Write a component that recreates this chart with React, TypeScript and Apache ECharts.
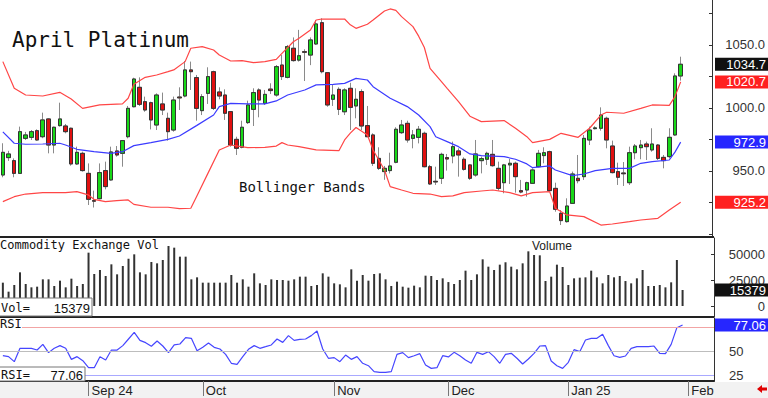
import React, { useEffect, useRef } from "react";
import * as echarts from "echarts";

// ---- data (one entry per trading day) ----
const opens = [
  946.8, 960.6, 958.2, 948.1, 975.9, 976.7, 982.0, 977.2, 991.3, 970.6,
  986.0, 985.7, 983.9, 955.6, 964.0, 948.1, 926.5, 928.0, 950.3, 942.9,
  965.9, 964.0, 977.2, 1001.0, 1016.4, 1005.0, 1004.2, 986.5, 1003.2, 991.8,
  982.5, 1008.7, 1009.5, 1030.2, 1024.1, 997.9, 1011.6, 1028.8, 1012.7, 1010.3,
  997.1, 975.1, 968.8, 988.4, 998.9, 1014.3, 1003.7, 1015.0, 1010.3, 1034.1,
  1024.3, 1047.4, 1038.0, 1044.7, 1042.0, 1050.8, 1067.7, 1028.0, 1006.9, 1014.8,
  997.0, 1015.6, 1001.6, 1013.0, 986.0, 978.6, 960.0, 949.5, 950.3, 956.9,
  980.4, 987.8, 975.9, 976.7, 979.9, 953.4, 941.8, 944.2, 960.6, 961.9,
  965.9, 959.3, 954.8, 946.8, 958.2, 959.3, 963.2, 952.1, 940.7, 954.8,
  956.1, 934.4, 934.9, 940.2, 953.4, 962.2, 965.3, 936.2, 916.4, 909.8,
  924.3, 944.2, 945.5, 974.6, 983.6, 983.9, 991.8, 969.8, 949.5, 948.4,
  940.7, 964.5, 968.5, 971.4, 966.7, 970.6, 960.8, 961.4, 978.6, 1025.4,
];
const highs = [
  972.0, 966.0, 960.0, 985.2, 981.0, 982.5, 983.0, 996.3, 991.8, 985.2,
  1004.2, 987.3, 984.4, 969.3, 965.3, 956.0, 934.4, 956.0, 957.4, 969.3,
  969.8, 974.6, 1001.6, 1024.0, 1024.3, 1009.0, 1005.0, 1011.6, 1012.2, 996.3,
  1009.0, 1016.4, 1037.3, 1036.8, 1026.2, 1011.0, 1032.3, 1029.6, 1016.4, 1014.8,
  997.6, 977.2, 989.9, 1005.8, 1015.6, 1015.6, 1014.3, 1019.6, 1034.1, 1042.0,
  1050.0, 1056.0, 1062.0, 1046.6, 1056.0, 1069.8, 1071.2, 1028.0, 1018.3, 1016.4,
  1015.6, 1020.0, 1015.6, 1014.8, 1001.6, 979.9, 968.8, 954.0, 964.5, 984.7,
  990.5, 989.9, 982.5, 985.7, 981.2, 954.8, 953.4, 964.5, 963.5, 973.3,
  968.0, 960.8, 955.3, 974.6, 961.4, 965.3, 974.6, 957.4, 955.6, 959.5,
  957.4, 942.9, 941.5, 952.1, 966.7, 968.8, 966.1, 940.7, 919.0, 928.3,
  949.5, 962.7, 978.6, 985.2, 985.5, 1000.5, 993.1, 974.1, 956.6, 957.1,
  969.3, 971.4, 974.6, 973.3, 983.9, 971.4, 962.7, 983.9, 1027.5, 1040.7,
];
const lows = [
  945.0, 958.0, 945.0, 947.6, 974.6, 974.6, 974.0, 976.0, 964.0, 964.0,
  985.2, 979.9, 954.2, 954.8, 949.5, 923.0, 921.0, 927.5, 935.4, 942.3,
  961.4, 953.4, 975.9, 1000.5, 1001.6, 997.0, 983.0, 982.5, 994.4, 974.1,
  981.2, 998.4, 1008.5, 1014.3, 989.9, 994.4, 1003.2, 998.4, 1006.9, 990.5,
  969.3, 962.7, 968.0, 987.3, 985.7, 992.6, 1002.4, 1011.1, 1009.0, 1022.2,
  1023.5, 1036.8, 1036.8, 1021.4, 1034.0, 1050.0, 1027.5, 1001.0, 1001.6, 994.4,
  994.4, 982.5, 991.8, 982.5, 977.0, 954.0, 950.8, 943.0, 948.0, 956.1,
  979.4, 972.5, 968.0, 971.9, 952.9, 938.9, 938.9, 939.7, 950.3, 956.1,
  945.5, 950.3, 942.9, 945.5, 948.1, 954.8, 953.4, 934.4, 932.3, 939.7,
  932.8, 932.3, 929.6, 939.7, 952.9, 956.1, 933.6, 917.7, 907.1, 909.0,
  923.8, 940.2, 942.9, 970.6, 983.0, 982.0, 968.0, 948.1, 938.9, 938.1,
  938.9, 959.3, 959.3, 958.7, 965.3, 958.7, 952.1, 960.0, 977.9, 1021.7,
];
const closes = [
  964.8, 963.5, 948.1, 981.2, 978.6, 981.2, 974.6, 990.5, 970.6, 984.7,
  991.3, 981.2, 955.6, 964.8, 950.3, 927.5, 926.0, 948.7, 937.6, 965.1,
  962.7, 974.1, 999.7, 1023.0, 1002.9, 998.4, 990.5, 1010.3, 998.4, 981.2,
  1006.3, 1008.0, 1030.2, 1028.8, 999.7, 1009.0, 1024.9, 999.7, 1009.5, 995.8,
  970.6, 968.0, 984.7, 1002.4, 1012.2, 1006.3, 1010.8, 1013.8, 1032.8, 1024.9,
  1048.7, 1037.6, 1041.5, 1044.2, 1054.0, 1066.7, 1028.8, 1002.4, 1010.3, 998.9,
  1014.3, 1000.5, 1006.9, 985.7, 977.2, 956.1, 952.1, 952.1, 954.0, 983.1,
  986.5, 974.6, 978.6, 983.1, 953.4, 939.7, 941.3, 963.2, 959.5, 969.3,
  962.7, 951.3, 944.2, 963.5, 959.8, 964.0, 954.2, 936.2, 954.8, 956.1,
  945.5, 933.3, 940.7, 950.8, 964.0, 964.5, 934.4, 919.6, 910.6, 922.2,
  947.6, 942.3, 975.9, 982.5, 984.2, 994.4, 974.6, 948.7, 945.0, 947.8,
  964.5, 969.8, 970.6, 969.3, 971.4, 960.0, 958.2, 976.7, 1025.4, 1034.7,
];
const volumes = [
  22436, 13782, 20192, 32372, 21153, 17949, 18589, 25641, 25641, 19230,
  24358, 17949, 26282, 19230, 21153, 51282, 30768, 34614, 28845, 40063,
  30448, 38460, 45511, 49679, 32372, 30448, 42306, 41024, 44229, 57690,
  56087, 47434, 47434, 25641, 27563, 22436, 22436, 22436, 22436, 22436,
  29807, 22436, 25641, 18589, 31410, 21794, 20192, 25641, 24999, 24999,
  24358, 25641, 28204, 28204, 19230, 20192, 31410, 28204, 21794, 20833,
  17949, 35256, 24358, 29807, 24358, 30768, 31410, 25641, 19230, 23397,
  18589, 17628, 19551, 17949, 29166, 28845, 24999, 26602, 23000, 21153,
  24999, 33974, 24999, 30448, 44869, 37819, 34614, 39742, 42047, 37819,
  35256, 41024, 52564, 49038, 48717, 24038, 28204, 39742, 37498, 20192,
  26602, 27243, 27563, 33974, 27563, 21794, 29807, 27563, 28845, 24000,
  21794, 26602, 34614, 19230, 19230, 20192, 17949, 22756, 44229, 15379,
];
const rsi = [
  45.1, 44.1, 38.9, 52.8, 52.8, 52.8, 51.0, 56.9, 48.3, 52.8,
  55.6, 52.8, 41.3, 44.1, 39.9, 32.6, 32.6, 44.1, 40.6, 51.0,
  51.0, 55.6, 62.5, 69.4, 61.1, 58.7, 54.9, 60.4, 55.2, 48.3,
  56.3, 57.3, 63.9, 63.2, 50.3, 53.8, 58.3, 53.8, 52.1, 46.5,
  37.2, 36.1, 44.1, 51.7, 55.6, 52.8, 54.5, 56.3, 62.5, 59.0,
  66.0, 61.1, 62.2, 62.5, 66.0, 70.8, 52.1, 42.4, 43.1, 38.9,
  45.8, 41.3, 44.1, 37.2, 34.7, 28.5, 27.8, 27.8, 28.5, 46.5,
  48.3, 43.1, 45.1, 47.2, 35.4, 31.9, 32.6, 45.1, 43.8, 48.6,
  45.1, 40.6, 37.2, 48.6, 46.5, 49.3, 44.1, 37.2, 46.5, 47.6,
  42.4, 36.5, 41.7, 47.6, 55.2, 55.6, 39.6, 34.7, 31.9, 38.2,
  51.4, 49.3, 61.5, 63.2, 63.2, 67.4, 55.6, 45.1, 43.4, 44.8,
  52.8, 54.5, 54.5, 54.5, 55.2, 47.6, 47.2, 56.9, 74.3, 77.06,
];
// Bollinger bands read at selected days: [dayIndex, price]
const upperBand = [
  [0, 1036.8], [2, 1015.6], [4, 1010.3], [7, 1009.5], [10, 1012.4], [12, 1007.1], [14, 999.7],
  [17, 1002.4], [21, 1003.2], [22, 1007.7], [23, 1018.8], [25, 1024.3], [27, 1026.2], [29, 1028.8],
  [30, 1030.2], [32, 1036.8], [33, 1047.4], [35, 1048.7], [37, 1046.0], [38, 1042.1], [40, 1037.3],
  [42, 1037.6], [44, 1036.0], [46, 1036.8], [48, 1038.6], [49, 1043.4], [51, 1052.6], [52, 1055.3],
  [54, 1061.9], [55, 1069.8], [56, 1070.6], [60, 1070.6], [61, 1066.0], [62, 1063.2], [64, 1066.5],
  [65, 1069.8], [67, 1077.0], [68, 1078.6], [69, 1077.5], [70, 1072.5], [72, 1064.6], [73, 1057.0],
  [74, 1048.0], [75, 1031.5], [77, 1021.0], [78, 1015.6], [80, 1005.0], [82, 993.5], [84, 989.2],
  [88, 990.0], [90, 983.9], [92, 977.2], [93, 972.5], [96, 975.1], [98, 979.9], [101, 976.7],
  [103, 983.9], [105, 994.4], [106, 996.6], [109, 995.8], [112, 999.7], [114, 1002.4], [117, 1002.1],
  [118, 1009.0], [119, 1020.7],
];
const middleBand = [
  [0, 981.0], [2, 972.0], [4, 971.2], [7, 971.4], [10, 972.0], [11, 970.6], [13, 967.2], [16, 965.3],
  [19, 964.0], [21, 965.3], [23, 970.1], [26, 972.5], [29, 975.1], [31, 977.8], [34, 986.0],
  [37, 994.4], [38, 1001.1], [40, 1003.7], [43, 1003.2], [46, 1003.2], [48, 1005.6], [50, 1010.3],
  [53, 1014.3], [55, 1018.3], [58, 1018.8], [60, 1019.5], [62, 1023.5], [64, 1022.2], [65, 1016.9],
  [68, 1007.7], [71, 1001.1], [73, 994.4], [75, 985.2], [76, 977.2], [78, 973.3], [80, 969.3],
  [82, 963.5], [84, 962.2], [88, 961.4], [90, 959.3], [92, 955.6], [93, 952.6], [96, 954.0],
  [97, 950.8], [100, 946.3], [102, 947.6], [104, 950.3], [107, 952.1], [110, 952.1], [112, 956.1],
  [114, 957.4], [117, 958.7], [118, 965.0], [119, 972.9],
];
const lowerBand = [
  [0, 925.7], [2, 929.6], [4, 931.7], [7, 932.8], [11, 932.8], [13, 933.6], [15, 931.0], [16, 927.5],
  [18, 925.7], [20, 926.5], [22, 927.0], [23, 923.5], [26, 921.2], [29, 921.2], [31, 920.1],
  [33, 920.4], [34, 929.6], [36, 948.1], [38, 966.7], [40, 970.6], [43, 968.5], [46, 968.8],
  [48, 969.8], [49, 972.5], [50, 970.6], [52, 969.3], [55, 966.7], [59, 966.1], [60, 974.6],
  [61, 980.0], [62, 984.5], [64, 978.6], [65, 966.7], [67, 950.8], [68, 937.6], [70, 934.9],
  [72, 932.3], [75, 931.7], [77, 929.6], [79, 930.2], [81, 932.8], [84, 934.1], [86, 934.9],
  [89, 932.8], [91, 930.2], [93, 932.8], [96, 933.6], [97, 920.4], [99, 915.1], [102, 913.8],
  [105, 907.1], [107, 907.9], [110, 909.8], [112, 911.1], [115, 912.4], [117, 919.0], [119, 925.2],
];
const monthIndex = [15, 35, 58, 78, 99, 120];
const monthLabels = ["Sep 24", "Oct", "Nov", "Dec", "Jan 25", "Feb"];
const priceLabels = [950, 1000, 1050];
const priceTicks = [900, 925, 950, 975, 1000, 1025, 1050, 1075];
const volLabels = [0, 25000, 50000];
const rsiLabels = [25, 50];
const rsiLevels = [75, 50, 25];

const SLOTS = 125;
const MONO = '"DejaVu Sans Mono", monospace';
const SANS = '"Liberation Sans", Arial, sans-serif';

export default function App() {
  const ref = useRef<HTMLDivElement>(null);
  useEffect(() => {
    const chart = echarts.init(ref.current!, null, { renderer: "svg" });
    const cats = Array.from({ length: SLOTS }, (_, i) => String(i));
    const n = closes.length;
    const wickData = closes.map((c, i) => [opens[i], c, lows[i], highs[i]]);
    const bodyData = closes.map((c, i) => [opens[i], c, Math.min(opens[i], c), Math.max(opens[i], c)]);
    const isMonth = (i: number) => monthIndex.indexOf(i) >= 0;
    const hiddenX = (g: number) => ({
      type: "category", gridIndex: g, data: cats, boundaryGap: true, show: false,
    });
    const rightY = (g: number, min: number, max: number, labels: number[], ticks: number[], fmt: (v: number) => string, align: string, margin: number) => ({
      type: "value", gridIndex: g, position: "right", min, max, scale: true,
      splitLine: { show: false },
      axisLine: { show: true, lineStyle: { color: "#333", width: 1 } },
      axisTick: { show: true, inside: true, length: 3, customValues: ticks, lineStyle: { color: "#333" } },
      axisLabel: { customValues: labels, formatter: fmt, align, margin, color: "#333", fontSize: 13, fontFamily: SANS },
    });

    const option: any = {
      animation: false,
      backgroundColor: "#ffffff",
      grid: [
        { left: 0, top: 0, width: 714, height: 237 },
        { left: 0, top: 238, width: 714, height: 79 },
        { left: 0, top: 318, width: 714, height: 63 },
      ],
      xAxis: [
        hiddenX(0),
        hiddenX(1),
        {
          type: "category", gridIndex: 2, data: cats, boundaryGap: true, z: 10,
          axisLine: { show: true, lineStyle: { color: "#222", width: 2 } },
          axisTick: { show: true, alignWithLabel: true, interval: (i: number) => isMonth(i), length: 15, lineStyle: { color: "#777" } },
          axisLabel: {
            interval: (i: number) => isMonth(i),
            formatter: (_v: string, i: number) => monthLabels[monthIndex.indexOf(i)] || "",
            align: "left", padding: [0, 0, 0, 3], margin: 3,
            color: "#222", fontSize: 13, fontFamily: SANS,
          },
          splitLine: { show: false },
        },
      ],
      yAxis: [
        rightY(0, 897.6, 1085.7, priceLabels, priceTicks, (v: number) => v.toFixed(1), "right", 53),
        rightY(1, -10577, 65385, volLabels, volLabels, (v: number) => String(v), "right", 51),
        rightY(2, 18.75, 84.375, rsiLabels, rsiLevels, (v: number) => String(v), "left", 15),
      ],
      series: [
        {
          type: "candlestick", xAxisIndex: 0, yAxisIndex: 0, data: wickData, barWidth: 4,
          itemStyle: { color: "#8a8a8a", color0: "#8a8a8a", borderColor: "#8a8a8a", borderColor0: "#8a8a8a", borderWidth: 1 },
          z: 2,
        },
        {
          type: "candlestick", xAxisIndex: 0, yAxisIndex: 0, data: bodyData, barWidth: 4,
          itemStyle: { color: "#18d818", color0: "#e01010", borderColor: "#333", borderColor0: "#333", borderWidth: 1 },
          z: 3,
        },
        { type: "line", xAxisIndex: 0, yAxisIndex: 0, data: upperBand, showSymbol: false, lineStyle: { color: "#ff4646", width: 1.2 }, z: 4 },
        { type: "line", xAxisIndex: 0, yAxisIndex: 0, data: middleBand, showSymbol: false, lineStyle: { color: "#3c3cff", width: 1.2 }, z: 4 },
        { type: "line", xAxisIndex: 0, yAxisIndex: 0, data: lowerBand, showSymbol: false, lineStyle: { color: "#ff4646", width: 1.2 }, z: 4 },
        {
          type: "bar", xAxisIndex: 1, yAxisIndex: 1, data: volumes, barWidth: 2,
          itemStyle: { color: "#333" },
        },
        {
          type: "line", xAxisIndex: 2, yAxisIndex: 2, data: rsi, showSymbol: false,
          lineStyle: { color: "#4646ff", width: 1.2 }, z: 4,
          markLine: {
            silent: true, symbol: "none", label: { show: false },
            lineStyle: { type: "solid", width: 1 },
            data: [
              { yAxis: rsiLevels[0], lineStyle: { color: "#f2a4a4", type: "solid" } },
              { yAxis: rsiLevels[1], lineStyle: { color: "#bdbdbd", type: "solid" } },
              { yAxis: rsiLevels[2], lineStyle: { color: "#a9a9ff", type: "solid" } },
            ],
          },
        },
      ],
    };
    chart.setOption(option);

    const py = (g: number, v: number) => (chart.convertToPixel({ gridIndex: g } as any, [n - 1, v]) as number[])[1];
    const tag = (y: number, text: string, bg: string) => ({
      type: "group", z: 200,
      children: [
        { type: "rect", z: 200, shape: { x: 715, y: y - 6.5, width: 53, height: 13 }, style: { fill: bg } },
        { type: "text", z: 201, x: 766, y: y, style: { text, fill: "#fff", font: `13px ${SANS}`, textAlign: "right", textVerticalAlign: "middle" } },
      ],
    });
    const lastUpper = upperBand[upperBand.length - 1][1];
    const lastMid = middleBand[middleBand.length - 1][1];
    const lastLow = lowerBand[lowerBand.length - 1][1];
    const lastClose = closes[n - 1];
    const lastVol = volumes[n - 1];
    const lastRsi = rsi[n - 1];

    chart.setOption({
      graphic: [
        { type: "rect", z: -100, zlevel: 0, shape: { x: 0, y: 382, width: 768, height: 16 }, style: { fill: "#f2f2f2" }, silent: true },
        { type: "line", z: 60, shape: { x1: 0, y1: 237, x2: 714, y2: 237 }, style: { stroke: "#222", lineWidth: 2 } },
        { type: "line", z: 60, shape: { x1: 0, y1: 317, x2: 714, y2: 317 }, style: { stroke: "#222", lineWidth: 2 } },
        { type: "text", z: 100, x: 12, y: 40, style: { text: "April Platinum", fill: "#111", font: `21px ${MONO}`, textVerticalAlign: "middle" } },
        { type: "text", z: 100, x: 239, y: 187, style: { text: "Bollinger Bands", fill: "#111", font: `14px ${MONO}`, textVerticalAlign: "middle" } },
        { type: "text", z: 100, x: 0, y: 245, style: { text: "Commodity Exchange Vol", fill: "#111", font: `12px ${MONO}`, textVerticalAlign: "middle" } },
        { type: "text", z: 100, x: 532, y: 246, style: { text: "Volume", fill: "#222", font: `12px ${SANS}`, textVerticalAlign: "middle" } },
        { type: "rect", z: 90, shape: { x: 0, y: 318, width: 22, height: 11 }, style: { fill: "#fff" } },
        { type: "text", z: 100, x: 0, y: 323.5, style: { text: "RSI", fill: "#111", font: `12px ${MONO}`, textVerticalAlign: "middle" } },
        // value boxes
        { type: "rect", z: 95, shape: { x: -1, y: 298, width: 93, height: 18 }, style: { fill: "#fff", stroke: "#777", lineWidth: 1 } },
        { type: "text", z: 100, x: 1, y: 308, style: { text: "Vol=", fill: "#111", font: `12px ${MONO}`, textVerticalAlign: "middle" } },
        { type: "text", z: 100, x: 90, y: 308, style: { text: String(lastVol), fill: "#111", font: `13px ${SANS}`, textAlign: "right", textVerticalAlign: "middle" } },
        { type: "rect", z: 95, shape: { x: -1, y: 367, width: 86, height: 14 }, style: { fill: "#fff", stroke: "#777", lineWidth: 1 } },
        { type: "text", z: 100, x: 1, y: 375, style: { text: "RSI=", fill: "#111", font: `12px ${MONO}`, textVerticalAlign: "middle" } },
        { type: "text", z: 100, x: 83, y: 375, style: { text: lastRsi.toFixed(2), fill: "#111", font: `13px ${SANS}`, textAlign: "right", textVerticalAlign: "middle" } },
        // right tags
        tag(py(0, lastClose), lastClose.toFixed(1), "#111111"),
        tag(py(0, lastUpper), lastUpper.toFixed(1), "#ff2020"),
        tag(py(0, lastMid), lastMid.toFixed(1), "#2626ff"),
        tag(py(0, lastLow), lastLow.toFixed(1), "#ff2020"),
        tag(py(1, lastVol), String(lastVol), "#111111"),
        tag(py(2, lastRsi), lastRsi.toFixed(2), "#2626ff"),
        {
          type: "polygon", z: 100,
          shape: { points: [[757, 389], [762, 385], [762, 387.5], [767, 387.5], [767, 390.5], [762, 390.5], [762, 393]] },
          style: { fill: "#e00000" },
        },
      ],
    });

    return () => chart.dispose();
  }, []);
  return (
    <div
      ref={ref}
      style={{ position: "fixed", left: 0, top: 0, width: 768, height: 398, background: "#fff" }}
    />
  );
}
